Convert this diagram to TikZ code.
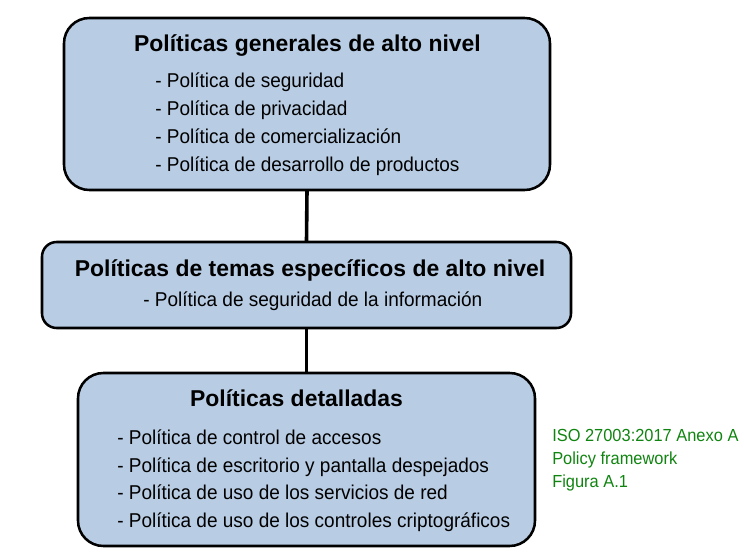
\documentclass[tikz,border=0pt]{standalone}
\usepackage{fontspec}
\setmainfont{Liberation Sans}
\newfontfamily\condfont[FakeStretch=0.95]{Liberation Sans}
\newfontfamily\notefont[FakeStretch=0.94]{Liberation Sans}
\definecolor{boxfill}{HTML}{B8CCE4}
\definecolor{notegreen}{RGB}{16,132,16}
\tikzset{
  pbox/.style={draw=black, line width=1.9pt, fill=boxfill, inner sep=0pt, outer sep=0pt},
  ptitle/.style={anchor=base, inner sep=0pt, font=\fontsize{17.2}{20}\selectfont\bfseries},
  pitem/.style={anchor=base west, inner sep=0pt, font=\condfont\fontsize{15}{18}\selectfont},
  pnote/.style={anchor=base west, inner sep=0pt, text=notegreen, font=\notefont\fontsize{13.1}{15}\selectfont},
  link/.style={draw=black, line width=2.7pt}
}
\begin{document}
\begin{tikzpicture}[x=0.75pt, y=-0.75pt]
\useasboundingbox (0,0) rectangle (744,552);
% boxes
\node[pbox, rounded corners=19pt, minimum width=486*0.75pt, minimum height=172*0.75pt] (b1) at (307,104) {};
\node[pbox, rounded corners=11pt, minimum width=529*0.75pt, minimum height=86*0.75pt] (b2) at (306.5,285) {};
\node[pbox, rounded corners=19pt, minimum width=457*0.75pt, minimum height=173*0.75pt] (b3) at (306.5,459.5) {};
% connectors
\draw[link] (b1.south) -- (b2.north);
\draw[link] (b2.south) -- (b3.north);
% box 1
\node[ptitle] (t1) at (307.5,52) {Políticas generales de alto nivel};
\node[pitem] (i11) at (155,88) {- Política de seguridad};
\node[pitem] (i12) at (155,116) {- Política de privacidad};
\node[pitem] (i13) at (155,144) {- Política de comercialización};
\node[pitem] (i14) at (155,172) {- Política de desarrollo de productos};
% box 2
\node[ptitle] (t2) at (310,277) {Políticas de temas específicos de alto nivel};
\node[pitem] (i21) at (143,307) {- Política de seguridad de la información};
% box 3
\node[ptitle] (t3) at (296.5,407) {Políticas detalladas};
\node[pitem] (i31) at (117,445) {- Política de control de accesos};
\node[pitem] (i32) at (117,473) {- Política de escritorio y pantalla despejados};
\node[pitem] (i33) at (117,500) {- Política de uso de los servicios de red};
\node[pitem] (i34) at (117,528) {- Política de uso de los controles criptográficos};
% note
\node[pnote] (n1) at (552,442) {ISO 27003:2017 Anexo A};
\node[pnote] (n2) at (552,465) {Policy framework};
\node[pnote] (n3) at (552,488) {Figura A.1};
\end{tikzpicture}
\end{document}
